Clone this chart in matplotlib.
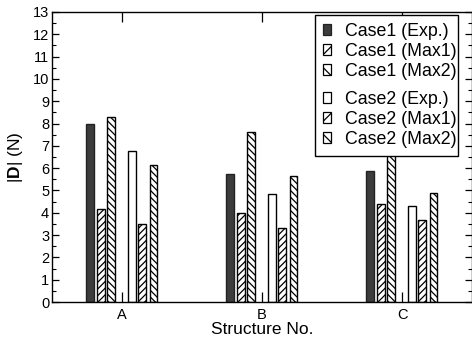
import matplotlib
matplotlib.use("Agg")
import matplotlib.pyplot as plt
import numpy as np
from matplotlib.patches import Patch, Rectangle
from matplotlib.ticker import MultipleLocator

plt.rcParams['font.family'] = ['Liberation Sans', 'DejaVu Sans']
plt.rcParams['mathtext.fontset'] = 'custom'
plt.rcParams['mathtext.rm'] = 'Liberation Sans'
plt.rcParams['mathtext.bf'] = 'Liberation Sans:bold'
plt.rcParams['hatch.linewidth'] = 0.9

categories = ['A', 'B', 'C']
series_labels = ['Case1 (Exp.)', 'Case1 (Max1)', 'Case1 (Max2)',
                 'Case2 (Exp.)', 'Case2 (Max1)', 'Case2 (Max2)']
case1_exp = [8.0, 5.72, 5.88]
case1_max1 = [4.16, 4.0, 4.38]
case1_max2 = [8.28, 7.64, 7.0]
case2_exp = [6.76, 4.86, 4.32]
case2_max1 = [3.5, 3.3, 3.66]
case2_max2 = [6.12, 5.66, 4.9]
series_values = [case1_exp, case1_max1, case1_max2, case2_exp, case2_max1, case2_max2]

offsets = [-0.228, -0.153, -0.078, 0.071, 0.146, 0.225]
width = 0.057
styles = [
    dict(facecolor='#3c3c3c', edgecolor='#222222', hatch=None),
    dict(facecolor='white', edgecolor='black', hatch='/////'),
    dict(facecolor='white', edgecolor='black', hatch='\\\\\\\\\\'),
    dict(facecolor='white', edgecolor='black', hatch=None),
    dict(facecolor='white', edgecolor='black', hatch='/////'),
    dict(facecolor='white', edgecolor='black', hatch='\\\\\\\\\\'),
]

fig = plt.figure(figsize=(4.72, 3.44), dpi=100)
ax = fig.add_axes([52 / 472, (344 - 302) / 344, 420 / 472, 290 / 344])

x = np.arange(len(categories))
for vals, off, st in zip(series_values, offsets, styles):
    ax.bar(x + off, vals, width=width, linewidth=1.0, zorder=2, **st)

ax.set_xlim(-0.5, 2.5)
ax.set_ylim(0, 13)
ax.set_xticks(x)
ax.set_xticklabels(categories, fontsize=10.5)
ax.yaxis.set_major_locator(MultipleLocator(1))
ax.yaxis.set_minor_locator(MultipleLocator(0.5))
ax.tick_params(axis='y', which='major', direction='in', length=5, width=0.9,
               left=True, right=True, labelsize=10.5, pad=2)
ax.tick_params(axis='y', which='minor', direction='in', length=3, width=0.8,
               left=True, right=True)
ax.tick_params(axis='x', which='major', direction='in', length=7, width=0.9,
               top=True, bottom=True, pad=4)
for s in ax.spines.values():
    s.set_linewidth(1.0)

ax.set_xlabel('Structure No.', fontsize=12.5, labelpad=0)
ax.set_ylabel(r'$|\mathbf{D}|$ (N)', fontsize=12.5, labelpad=6)

# legend frame
l, r, t, b = 0.625, 0.967, 0.990, 0.503
ax.add_patch(Rectangle((l, b), r - l, t - b, transform=ax.transAxes,
                       facecolor='white', edgecolor='black', linewidth=1.0, zorder=4))

handles = [Patch(facecolor=st['facecolor'], edgecolor=st['edgecolor'],
                 hatch=(st['hatch'][:3] if st['hatch'] else None), linewidth=0.9)
           for st in styles]
common = dict(frameon=False, fontsize=12.8, handlelength=0.45, handleheight=0.6,
              handletextpad=0.8, labelspacing=0.17, borderpad=0.0, borderaxespad=0.0,
              loc='upper left')
leg1 = ax.legend(handles[:3], series_labels[:3], bbox_to_anchor=(0.645, 0.962), **common)
leg1.set_zorder(5)
ax.add_artist(leg1)
leg2 = ax.legend(handles[3:], series_labels[3:], bbox_to_anchor=(0.645, 0.728), **common)
leg2.set_zorder(5)

fig.savefig('out.png', dpi=100)
